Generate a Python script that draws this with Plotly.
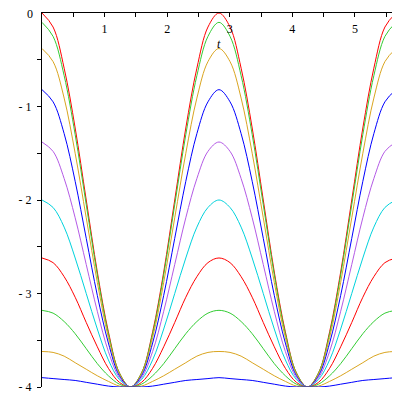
#!/usr/bin/env python

import plotly.graph_objects as go


# time axis (one sample every 1/16 of a period)
t = [0, 0.177, 0.354, 0.530, 0.707, 0.884, 1.061, 1.237, 1.414, 1.591, 1.768,
     1.945, 2.121, 2.298, 2.475, 2.652, 2.828, 3.005, 3.182, 3.359, 3.536,
     3.712, 3.889, 4.066, 4.243, 4.419, 4.596, 4.773, 4.950, 5.127, 5.303,
     5.480, 5.657]

# curves, from the top one down
y0 = [0, -0.15, -0.59, -1.23, -2.0, -2.77, -3.41, -3.85, -4.0, -3.85, -3.41,
      -2.77, -2.0, -1.23, -0.59, -0.15, 0, -0.15, -0.59, -1.23, -2.0, -2.77,
      -3.41, -3.85, -4.0, -3.85, -3.41, -2.77, -2.0, -1.23, -0.59, -0.15, 0]
y1 = [-0.10, -0.25, -0.67, -1.30, -2.05, -2.80, -3.43, -3.85, -4.0, -3.85,
      -3.43, -2.80, -2.05, -1.30, -0.67, -0.25, -0.10, -0.25, -0.67, -1.30,
      -2.05, -2.80, -3.43, -3.85, -4.0, -3.85, -3.43, -2.80, -2.05, -1.30,
      -0.67, -0.25, -0.10]
y2 = [-0.38, -0.52, -0.91, -1.50, -2.19, -2.88, -3.47, -3.86, -4.0, -3.86,
      -3.47, -2.88, -2.19, -1.50, -0.91, -0.52, -0.38, -0.52, -0.91, -1.50,
      -2.19, -2.88, -3.47, -3.86, -4.0, -3.86, -3.47, -2.88, -2.19, -1.50,
      -0.91, -0.52, -0.38]
y3 = [-0.82, -0.95, -1.29, -1.80, -2.41, -3.02, -3.53, -3.88, -4.0, -3.88,
      -3.53, -3.02, -2.41, -1.80, -1.29, -0.95, -0.82, -0.95, -1.29, -1.80,
      -2.41, -3.02, -3.53, -3.88, -4.0, -3.88, -3.53, -3.02, -2.41, -1.80,
      -1.29, -0.95, -0.82]
y4 = [-1.38, -1.48, -1.77, -2.19, -2.69, -3.19, -3.62, -3.90, -4.0, -3.90,
      -3.62, -3.19, -2.69, -2.19, -1.77, -1.48, -1.38, -1.48, -1.77, -2.19,
      -2.69, -3.19, -3.62, -3.90, -4.0, -3.90, -3.62, -3.19, -2.69, -2.19,
      -1.77, -1.48, -1.38]
y5 = [-2.0, -2.08, -2.29, -2.62, -3.0, -3.38, -3.71, -3.92, -4.0, -3.92,
      -3.71, -3.38, -3.0, -2.62, -2.29, -2.08, -2.0, -2.08, -2.29, -2.62,
      -3.0, -3.38, -3.71, -3.92, -4.0, -3.92, -3.71, -3.38, -3.0, -2.62,
      -2.29, -2.08, -2.0]
y6 = [-2.62, -2.67, -2.82, -3.04, -3.31, -3.57, -3.80, -3.95, -4.0, -3.95,
      -3.80, -3.57, -3.31, -3.04, -2.82, -2.67, -2.62, -2.67, -2.82, -3.04,
      -3.31, -3.57, -3.80, -3.95, -4.0, -3.95, -3.80, -3.57, -3.31, -3.04,
      -2.82, -2.67, -2.62]
y7 = [-3.18, -3.21, -3.30, -3.43, -3.59, -3.75, -3.88, -3.97, -4.0, -3.97,
      -3.88, -3.75, -3.59, -3.43, -3.30, -3.21, -3.18, -3.21, -3.30, -3.43,
      -3.59, -3.75, -3.88, -3.97, -4.0, -3.97, -3.88, -3.75, -3.59, -3.43,
      -3.30, -3.21, -3.18]
y8 = [-3.62, -3.63, -3.67, -3.74, -3.81, -3.88, -3.94, -3.99, -4.0, -3.99,
      -3.94, -3.88, -3.81, -3.74, -3.67, -3.63, -3.62, -3.63, -3.67, -3.74,
      -3.81, -3.88, -3.94, -3.99, -4.0, -3.99, -3.94, -3.88, -3.81, -3.74,
      -3.67, -3.63, -3.62]
y9 = [-3.90, -3.91, -3.92, -3.93, -3.95, -3.97, -3.99, -4.0, -4.0, -4.0,
      -3.99, -3.97, -3.95, -3.93, -3.92, -3.91, -3.90, -3.91, -3.92, -3.93,
      -3.95, -3.97, -3.99, -4.0, -4.0, -4.0, -3.99, -3.97, -3.95, -3.93,
      -3.92, -3.91, -3.90]

curves = [y0, y1, y2, y3, y4, y5, y6, y7, y8, y9]

x_ticks = [1, 2, 3, 4, 5]
x_minor = [0.5, 1.5, 2.5, 3.5, 4.5, 5.5]
y_ticks = [-4, -3, -2, -1, 0]
y_labels = ["- 4", "- 3", "- 2", "- 1", "0"]
y_minor = [-3.5, -2.5, -1.5, -0.5]

# maple-ish colour cycle
palette = ["#ff0000", "#33cc33", "#daa520", "#0000ff", "#b45ae6", "#00d2dc"]

font = dict(family="Liberation Serif", size=12, color="black")

fig = go.Figure()
for i, y in enumerate(curves):
    fig.add_trace(
        go.Scatter(
            x=t,
            y=y,
            mode="lines",
            line=dict(color=palette[i % len(palette)], width=1,
                      shape="spline", smoothing=1.0),
            showlegend=False,
            hoverinfo="skip"
        )
    )

fig.add_annotation(
    x=2.83, y=-0.33,
    text="<i>t</i>",
    showarrow=False,
    font=font
)

# plotly drops the top y label next to the inside x labels, so put it back
fig.add_annotation(
    xref="paper", x=0, xanchor="right", xshift=-8,
    y=y_ticks[-1], yshift=-1,
    text=y_labels[-1],
    showarrow=False,
    borderpad=0,
    font=font
)

# page body adds an 8px margin, so the figure is 392 wide/high
fig.update_layout(
    template="none",
    width=392,
    height=392,
    autosize=False,
    margin=dict(l=34, r=4, t=5, b=13, autoexpand=False),
    paper_bgcolor="white",
    plot_bgcolor="white",
    xaxis=dict(
        range=[0, 5.657],
        side="top",
        showline=True,
        linecolor="black",
        linewidth=1,
        ticks="inside",
        ticklen=4,
        tickcolor="black",
        tickvals=x_ticks,
        ticklabelposition="inside",
        ticklabelstandoff=7,
        tickfont=font,
        minor=dict(tickvals=x_minor, ticks="inside", ticklen=4,
                   tickcolor="black"),
        showgrid=False,
        zeroline=False,
        automargin=False
    ),
    yaxis=dict(
        range=[-4, 0],
        showline=True,
        linecolor="black",
        linewidth=1,
        ticks="outside",
        ticklen=4,
        tickcolor="black",
        tickvals=y_ticks,
        ticktext=y_labels,
        ticklabelstandoff=3,
        tickfont=font,
        minor=dict(tickvals=y_minor, ticks="outside", ticklen=4,
                   tickcolor="black"),
        showgrid=False,
        zeroline=False,
        automargin=False
    )
)

fig.write_html("out.html")
